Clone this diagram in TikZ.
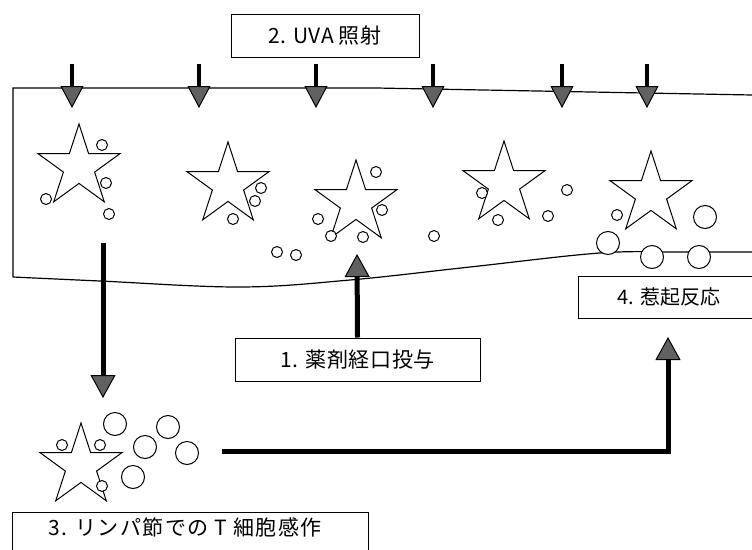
\documentclass[tikz,border=0pt]{standalone}
\usepackage{fontspec}
\setmainfont{Noto Sans CJK JP}
\usetikzlibrary{arrows.meta,shapes.geometric,calc}
\definecolor{headgray}{gray}{0.38}
\tikzset{
  region/.style={line width=1.2pt},
  labelbox/.style={draw, line width=1pt, inner sep=0pt, fill=white},
  labeltext/.style={font=\fontsize{20}{24}\selectfont, inner sep=0pt},
  starshape/.style={draw, star, star points=5, star point ratio=2.618, minimum size=86pt, inner sep=0pt, line width=1pt},
  smalldot/.style={draw, circle, minimum size=11pt, inner sep=0pt, line width=1pt, fill=white},
  bigdot/.style={draw, circle, minimum size=23pt, inner sep=0pt, line width=1pt, fill=white},
  uvarrow/.style={line width=4.5pt, -{Triangle[length=22pt,width=23pt,fill=headgray,line width=1pt]}},
  bigarrow/.style={line width=5pt, line join=miter, -{Triangle[length=23pt,width=25pt,fill=headgray,line width=1pt]}},
}
\begin{document}
\begin{tikzpicture}[x=1pt,y=-1pt]
\useasboundingbox (0,0) rectangle (752,549);
\clip (0,0) rectangle (752,549);

% skin region
\draw[region] (752,95) -- (376,88) -- (13,88) -- (13,277);
\draw[region] plot[smooth,tension=0.6] coordinates {(13,277) (100,281) (240,287) (350,280) (470,267) (600,253) (680,252) (752,252)};

% label boxes
\node[labelbox, labeltext, font=\fontsize{21}{25}\selectfont\addfontfeature{LetterSpace=2}, minimum width=188pt, minimum height=43pt] (b2) at (325,35.5) {2. UVA 照射};
\node[labelbox, labeltext, font=\fontsize{21}{25}\selectfont\addfontfeature{LetterSpace=3}, minimum width=245pt, minimum height=43pt] (b1) at (357.5,359.5) {1. 薬剤経口投与};
\node[labelbox, minimum width=222pt, minimum height=42pt] (box4) at (689,297) {};
\node[labeltext] (t4) at (669,297) {4. 惹起反応};
\node[labelbox, minimum width=356pt, minimum height=68pt] (box3) at (190,546) {};
\node[labeltext, font=\fontsize{21}{25}\selectfont\addfontfeature{LetterSpace=7}] (t3) at (185,527) {3. リンパ節での T 細胞感作};

% stars
\node[starshape] (s1) at (79,167) {};
\node[starshape] (s2) at (228,185) {};
\node[starshape] (s3) at (356,203) {};
\node[starshape] (s4) at (504,184) {};
\node[starshape] (s5) at (651,194) {};
\node[starshape] (s6) at (81,466) {};

% small particles
\foreach \x/\y [count=\i] in {102/145, 106/183, 46/199, 109/214,
  261/188, 255/201, 233/219, 277/252, 296/255, 434/236,
  376/172, 382/210, 318/219, 331/236, 363/237,
  482/193, 498/220, 548/216, 567/190, 617/215,
  62/445, 100/445, 102/486}
  \node[smalldot] (d\i) at (\x,\y) {};

% large cells
\foreach \x/\y [count=\i] in {705/217, 608/243, 652/257, 699/257,
  115/424, 145/447, 168/427, 187/453, 133/477}
  \node[bigdot] (c\i) at (\x,\y) {};

% UVA arrows
\foreach \x [count=\i] in {72,199,316,433,562,647} {
  \coordinate (u\i) at (\x,64);
  \coordinate (v\i) at (\x,108);
  \draw[uvarrow] (u\i) -- (v\i);
}

% oral administration arrow
\coordinate (oraltip) at (357,254);
\draw[bigarrow] (b1.north) -- (oraltip);

% migration to lymph node
\coordinate (m1) at (103,243);
\coordinate (m2) at (103,398);
\draw[bigarrow] (m1) -- (m2);

% sensitisation to elicitation
\coordinate (l1) at (222,451);
\coordinate (e1) at (668,337);
\draw[bigarrow] (l1) -| (e1);
\end{tikzpicture}
\end{document}
